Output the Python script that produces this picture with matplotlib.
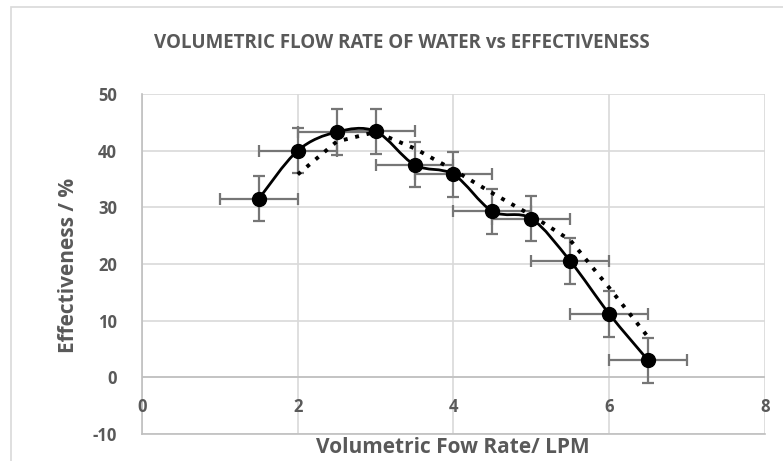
import matplotlib.pyplot as plt
import numpy as np
from matplotlib.patches import PathPatch, Rectangle
from matplotlib.path import Path

# ------------------------------------------------------------------
# Dados
# ------------------------------------------------------------------
vazao = [1.5, 2.0, 2.5, 3.0, 3.5, 4.0, 4.5, 5.0, 5.5, 6.0, 6.5]
efetividade = [31.5, 40.0, 43.3, 43.4, 37.5, 35.8, 29.3, 28.0, 20.5, 11.2, 3.0]
erro_x = 0.5
erro_y = 4.0

# linha de tendência (média móvel, pontilhada)
tend_x = [2.0, 2.5, 3.0, 3.5, 4.0, 4.5, 5.0, 5.5, 6.0, 6.5]
tend_y = [35.8, 41.6, 43.3, 40.4, 36.6, 32.5, 28.6, 24.2, 15.8, 7.1]

x_ticks = [0, 2, 4, 6, 8]
y_ticks = [-10, 0, 10, 20, 30, 40, 50]

CINZA_TXT = "#595959"
CINZA_GRADE = "#d9d9d9"
FONTE = ["Open Sans", "DejaVu Sans"]

fig = plt.figure(figsize=(7.83, 4.61), dpi=100)
ax = fig.add_axes([0.1814, 0.0586, 0.7955, 0.7375])

# moldura externa do gráfico
fig.patches.append(Rectangle((11 / 783, -0.1), 1.0, (454 / 461) + 0.1,
                             transform=fig.transFigure, fill=False,
                             edgecolor="#d9d9d9", linewidth=1.2))

ax.set_xlim(0, 8)
ax.set_ylim(-10, 50)
ax.set_xticks(x_ticks)
ax.set_yticks(y_ticks)
ax.grid(True, color=CINZA_GRADE, linewidth=1.2)
ax.set_axisbelow(True)
for lado in ["top", "right"]:
    ax.spines[lado].set_visible(False)
ax.spines["left"].set_color("#bfbfbf")
ax.spines["bottom"].set_color("#bfbfbf")
ax.spines["left"].set_linewidth(1.2)
ax.spines["bottom"].set_linewidth(1.2)
ax.axhline(0, color="#bfbfbf", linewidth=1.2, zorder=1)
ax.tick_params(length=0)
ax.set_xticklabels([])
ax.set_yticklabels([str(v) for v in y_ticks], fontsize=12, fontweight="bold",
                   color=CINZA_TXT, family=FONTE)
ax.tick_params(axis="y", pad=18)

# rótulos do eixo x logo abaixo do eixo em y=0
for xv in x_ticks:
    ax.text(xv, -5.3, str(xv), ha="center", va="center", fontsize=12,
            fontweight="bold", color=CINZA_TXT, family=FONTE)

# barras de erro
ax.errorbar(vazao, efetividade, xerr=erro_x, yerr=erro_y, fmt="none",
            ecolor="#767676", elinewidth=1.6, capsize=4, capthick=1.6, zorder=2)

# linha suavizada (Bezier tipo Catmull-Rom, como no Excel)
pts = np.column_stack([vazao, efetividade])
verts = [tuple(pts[0])]
codes = [Path.MOVETO]
for i in range(len(pts) - 1):
    p0 = pts[i - 1] if i > 0 else pts[i]
    p1 = pts[i]
    p2 = pts[i + 1]
    p3 = pts[i + 2] if i + 2 < len(pts) else pts[i + 1]
    c1 = p1 + (p2 - p0) / 6
    c2 = p2 - (p3 - p1) / 6
    verts += [tuple(c1), tuple(c2), tuple(p2)]
    codes += [Path.CURVE4] * 3
ax.add_patch(PathPatch(Path(verts, codes), facecolor="none", edgecolor="black",
                       linewidth=2, zorder=3))
ax.plot(vazao, efetividade, "o", color="black", markersize=10, zorder=4)

# tendência pontilhada
ax.plot(tend_x, tend_y, color="black", linestyle=(0, (1, 2)), linewidth=2.8,
        zorder=3)

fig.text(402 / 783, 1 - 43 / 461, "VOLUMETRIC FLOW RATE OF WATER vs EFFECTIVENESS",
         ha="center", va="center", fontsize=13.5, fontweight="bold",
         color=CINZA_TXT, family=FONTE)
fig.text(453 / 783, 1 - 447 / 461, "Volumetric Fow Rate/ LPM", ha="center",
         va="center", fontsize=15, fontweight="bold", color=CINZA_TXT, family=FONTE)
fig.text(68 / 783, 1 - 265 / 461, "Effectiveness / %", ha="center", va="center",
         rotation=90, fontsize=15, fontweight="bold", color=CINZA_TXT, family=FONTE)

fig.savefig("out.png", dpi=100)
